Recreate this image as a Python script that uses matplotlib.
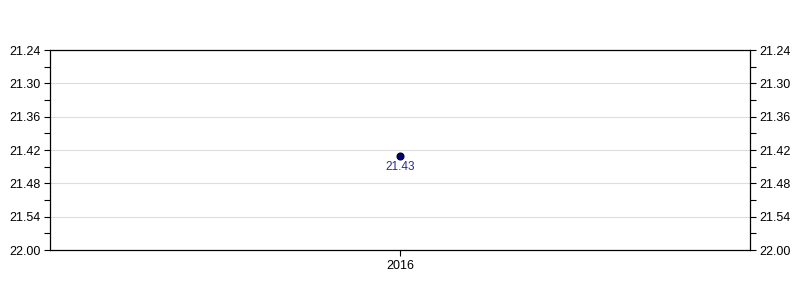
import matplotlib
matplotlib.use("Agg")
import matplotlib.pyplot as plt
from matplotlib.ticker import FixedLocator, MultipleLocator

plt.rcParams['font.family'] = ['Liberation Sans', 'DejaVu Sans']

# data
years = ["2016"]
values = [21.43]
y_ticks = [21.24, 21.30, 21.36, 21.42, 21.48, 21.54, 21.60]
y_tick_labels = ["21.24", "21.30", "21.36", "21.42", "21.48", "21.54", "22.00"]

fig = plt.figure(figsize=(8, 3), dpi=100)
ax = fig.add_axes([0.0625, 1 / 6, 0.875, 2 / 3])

x = list(range(len(years)))
ax.plot(x, values, linestyle='none', marker='o', markersize=5,
        markerfacecolor='#000080', markeredgecolor='black', markeredgewidth=0.8, zorder=3)
for xi, v in zip(x, values):
    ax.annotate(f"{v:.2f}", (xi, v), xytext=(0, -8), textcoords='offset points',
                ha='center', va='center', fontsize=8.5, color='#2a2a9a')

ax.set_xlim(-1, 1)
ax.set_xticks(x)
ax.set_xticklabels(years)

ax.set_ylim(21.60, 21.24)  # inverted
ax.yaxis.set_major_locator(FixedLocator(y_ticks))
ax.set_yticklabels(y_tick_labels)
ax.yaxis.set_minor_locator(MultipleLocator(0.03))
ax.grid(axis='y', color='#dddddd', linewidth=0.8)
ax.set_axisbelow(True)

ax.tick_params(axis='both', which='both', labelsize=9, length=4, width=0.8, colors='black')
ax.tick_params(axis='y', which='both', left=True, right=True, labelleft=True, labelright=True)
ax.tick_params(axis='y', which='major', pad=3)

for s in ax.spines.values():
    s.set_linewidth(0.9)

fig.savefig("out.png", dpi=100)
